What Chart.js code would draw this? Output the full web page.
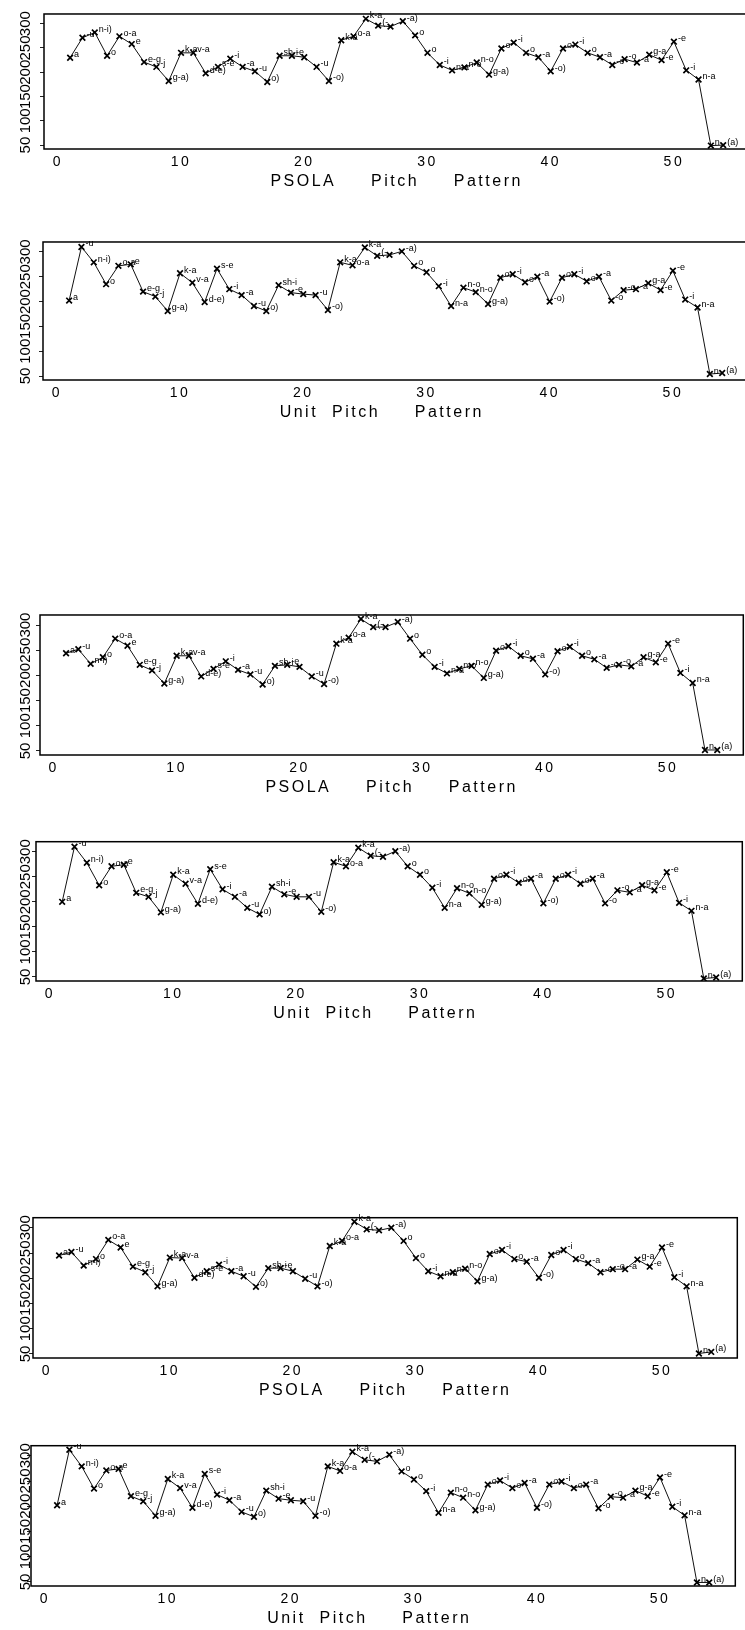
<!DOCTYPE html>
<html><head><meta charset="utf-8">
<script src="https://cdn.jsdelivr.net/npm/chart.js@4.4.1/dist/chart.umd.min.js"></script>
<style>
html,body{margin:0;padding:0;background:#fff;}
body{width:745px;height:1630px;overflow:hidden;position:relative;}
.panel{position:absolute;left:0;}
canvas{display:block;}
</style></head><body>
<div class="panel" id="p0"><canvas id="c0"></canvas></div>
<div class="panel" id="p1"><canvas id="c1"></canvas></div>
<div class="panel" id="p2"><canvas id="c2"></canvas></div>
<div class="panel" id="p3"><canvas id="c3"></canvas></div>
<div class="panel" id="p4"><canvas id="c4"></canvas></div>
<div class="panel" id="p5"><canvas id="c5"></canvas></div>
<script>
// ---------- data ----------
const unitIndex = Array.from({length: 54}, (_, i) => i + 1);
const pointLabels = ["a","-u","n-i)","o","o-a","e","e-g","-j","g-a)","k-a",
  "v-a","d-e)","s-e","-i","-a","-u","o)","sh-i","-e","",
  "-u","-o)","k-a","o-a","k-a","(-","","-a)","o","o",
  "-i","n-a","n-o","n-o","g-a)","o","-i","o","-a","-o)",
  "o","-i","o","-a","-o","-o","-a","g-a","-e","-e",
  "-i","n-a","n","(a)"];
const psolaA = [230,271,282,234,274,258,221,211,182,240,240,198,211,228,211,202,180,234,234,231,211,182,266,274,310,296,294,305,276,240,215,204,210,220,195,249,261,240,231,202,249,257,240,231,215,227,220,236,225,263,204,185,49,50];
const unitA  = [202,310,279,235,272,275,220,210,181,257,238,199,266,225,213,191,181,233,218,215,213,183,279,273,309,292,294,301,272,259,231,191,228,219,195,248,255,239,250,200,248,255,241,250,202,223,225,237,223,262,204,188,54,56];
const psolaB = [244,252,223,236,273,259,221,210,184,239,239,198,213,228,211,202,182,219,221,217,198,183,263,275,312,296,296,306,273,241,217,204,213,219,195,249,258,239,233,202,248,257,239,232,215,221,218,236,226,263,205,185,52,52];
const unitB  = [200,310,278,233,271,274,218,210,179,254,236,196,265,225,210,188,175,230,215,210,210,180,279,271,308,292,290,301,271,254,228,188,227,217,194,246,254,238,246,197,246,254,236,246,197,223,219,233,223,259,198,182,47,49];
const psolaC = [245,252,225,238,276,261,223,212,184,241,240,201,214,227,214,204,183,220,220,214,199,184,264,274,312,297,295,300,274,240,214,204,212,219,194,248,256,238,233,201,246,256,238,230,212,218,218,237,223,261,202,184,51,54];
const unitC  = [202,312,279,235,271,274,220,210,181,254,236,197,264,223,212,189,179,231,215,212,210,181,279,270,308,292,289,302,269,253,230,187,227,217,192,243,251,236,246,197,243,249,236,243,196,219,217,231,220,257,199,182,49,49];
const xTicks = [0,10,20,30,40,50];
const yTicks = [50,100,150,200,250,300];
const titlePSOLA = 'PSOLA     Pitch     Pattern';
const titleUnit  = 'Unit  Pitch     Pattern    ';

// ---------- layout (positions only) ----------
const panels = [
  {series: psolaA, title: titlePSOLA, box: [44, 7, 752, 149]},
  {series: unitA,  title: titleUnit,  box: [43, 236, 751, 380]},
  {series: psolaB, title: titlePSOLA, box: [40, 612, 746, 755]},
  {series: unitB,  title: titleUnit,  box: [36, 840, 745, 981]},
  {series: psolaC, title: titlePSOLA, box: [33, 1216, 740, 1358]},
  {series: unitC,  title: titleUnit,  box: [31, 1444, 738, 1586]}
];
const PAD_TOP = 4, PAD_RIGHT = 3, XH = 44, Y_TICK = 4, Y_LABEL_CENTER = 25.5;
const SANS = '"Liberation Sans", Arial, Helvetica, sans-serif';
const Y_FONT = '"Liberation Sans Narrow", "Liberation Sans", Arial, sans-serif';
const Y_SIZE = 15;

const meas = document.createElement('canvas').getContext('2d');
meas.font = Y_SIZE + 'px ' + Y_FONT;
const yWidest = Math.max(...yTicks.map(v => meas.measureText(String(v)).width));

const scanPlugin = {
  id: 'scan',
  beforeDraw(chart) { chart.ctx.letterSpacing = '2.5px'; },
  afterDatasetsDraw(chart) {
    const ctx = chart.ctx;
    ctx.letterSpacing = '0px';
    const a = chart.chartArea;
    ctx.save();
    ctx.strokeStyle = '#000';
    ctx.lineWidth = 1.5;
    ctx.strokeRect(a.left, a.top, a.right - a.left, a.bottom - a.top);
    ctx.restore();
    const meta = chart.getDatasetMeta(0);
    ctx.save();
    ctx.font = '9px ' + SANS;
    ctx.fillStyle = '#000';
    ctx.textBaseline = 'middle';
    ctx.textAlign = 'left';
    meta.data.forEach((pt, i) => {
      const t = pointLabels[i];
      if (t) ctx.fillText(t, pt.x + 4, pt.y - 3);
    });
    ctx.restore();
  }
};

panels.forEach((p, k) => {
  const [L, T, R, B] = p.box;
  const W = R + PAD_RIGHT, H = PAD_TOP + (B - T) + XH;
  const div = document.getElementById('p' + k);
  div.style.top = (T - PAD_TOP) + 'px';
  div.style.width = W + 'px';
  div.style.height = H + 'px';
  const cv = document.getElementById('c' + k);
  cv.width = W; cv.height = H;
  cv.style.width = W + 'px'; cv.style.height = H + 'px';
  const yPad = L - Y_TICK - yWidest / 2 - Y_LABEL_CENTER;
  new Chart(cv, {
    type: 'line',
    data: {
      datasets: [{
        data: unitIndex.map((x, i) => ({x: x, y: p.series[i]})),
        borderColor: '#111',
        borderWidth: 1,
        pointStyle: 'crossRot',
        pointRadius: 4,
        pointBorderWidth: 1.7,
        pointBorderColor: '#000',
        pointBackgroundColor: '#000',
        fill: false,
        tension: 0
      }]
    },
    options: {
      responsive: false,
      animation: false,
      events: [],
      layout: {padding: {top: PAD_TOP, right: PAD_RIGHT, left: 0, bottom: 0}},
      plugins: {legend: {display: false}, tooltip: {enabled: false}},
      scales: {
        x: {
          type: 'linear', min: -1.12, max: 56.12,
          afterBuildTicks: s => { s.ticks = xTicks.map(v => ({value: v})); },
          afterFit: s => { s.height = XH; },
          grid: {display: false, drawTicks: false},
          border: {display: false},
          ticks: {autoSkip: false, minRotation: 0, maxRotation: 0, padding: 5, color: '#000',
                  font: {family: SANS, size: 14}},
          title: {display: true, text: p.title, color: '#000',
                  font: {family: SANS, size: 16}, padding: {top: 0, bottom: 2}}
        },
        y: {
          type: 'linear', min: 42, max: 320,
          afterBuildTicks: s => { s.ticks = yTicks.map(v => ({value: v})); },
          afterFit: s => { s.width = L; },
          grid: {display: true, drawOnChartArea: false, drawTicks: true, tickLength: Y_TICK, color: '#222', lineWidth: 1},
          border: {display: false},
          ticks: {z: 1, minRotation: 90, maxRotation: 90, autoSkip: false, crossAlign: 'center',
                  padding: yPad, color: '#000', font: {family: Y_FONT, size: Y_SIZE}}
        }
      }
    },
    plugins: [scanPlugin]
  });
});
</script>
</body></html>
